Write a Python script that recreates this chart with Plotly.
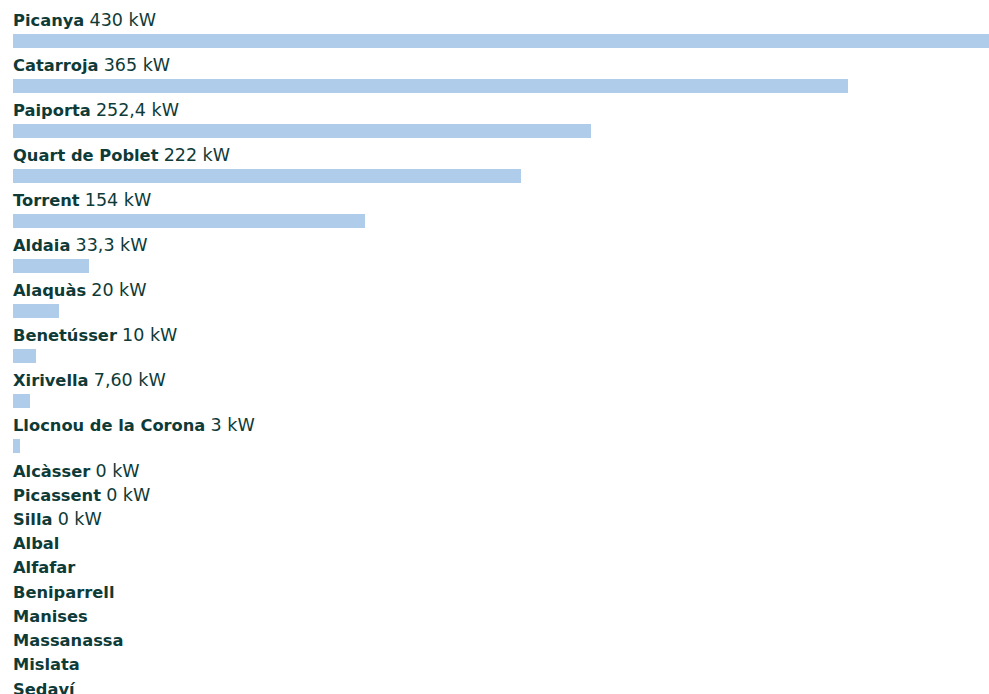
import plotly.graph_objects as go

municipalities = ["Picanya", "Catarroja", "Paiporta", "Quart de Poblet", "Torrent",
                  "Aldaia", "Alaquàs", "Benetússer", "Xirivella", "Llocnou de la Corona",
                  "Alcàsser", "Picassent", "Silla", "Albal", "Alfafar", "Beniparrell",
                  "Manises", "Massanassa", "Mislata", "Sedaví"]
power_kw = [430, 365, 252.4, 222, 154, 33.3, 20, 10, 7.6, 3,
            0, 0, 0, None, None, None, None, None, None, None]
power_labels = ["430", "365", "252,4", "222", "154", "33,3", "20", "10", "7,60", "3",
                "0", "0", "0", None, None, None, None, None, None, None]

TEXT_COLOR = "#0e3b38"
BAR_COLOR = "#afcdeb"
FONT = "DejaVu Sans"

ROW_WITH_BAR = 45.1
ROW_NO_BAR = 24.3
FIRST_LABEL_Y = 19.5
BAR_OFFSET = 21

label_y, bar_y = [], []
y = FIRST_LABEL_Y
for v in power_kw:
    label_y.append(y)
    bar_y.append(y + BAR_OFFSET)
    y += ROW_WITH_BAR if (v is not None and v > 0) else ROW_NO_BAR

bx = [v for v in power_kw if v is not None and v > 0]
by = [bar_y[i] for i, v in enumerate(power_kw) if v is not None and v > 0]

fig = go.Figure()
fig.add_trace(go.Bar(x=bx, y=by, orientation="h", width=14,
                     marker=dict(color=BAR_COLOR, line=dict(width=0)),
                     hoverinfo="skip"))

annotations = []
for name, lab, ly in zip(municipalities, power_labels, label_y):
    txt = f"<b>{name}</b>" + (f" <span style='font-size:17.5px'>{lab} kW</span>" if lab is not None else "")
    annotations.append(dict(x=0, y=ly, xref="x", yref="y", text=txt, showarrow=False,
                            xanchor="left", yanchor="middle", xshift=-2,
                            font=dict(family=FONT, size=16.3, color=TEXT_COLOR)))

fig.update_layout(
    width=989, height=694,
    margin=dict(l=13, r=0, t=0, b=0),
    paper_bgcolor="white", plot_bgcolor="white",
    showlegend=False,
    annotations=annotations,
    xaxis=dict(range=[0, 426.5], visible=False, fixedrange=True),
    yaxis=dict(range=[694, 0], visible=False, fixedrange=True),
    bargap=0,
)

fig.write_html("out.html", config={"displayModeBar": False, "staticPlot": True},
               post_script="document.body.style.margin='0';document.body.style.overflow='hidden';")
